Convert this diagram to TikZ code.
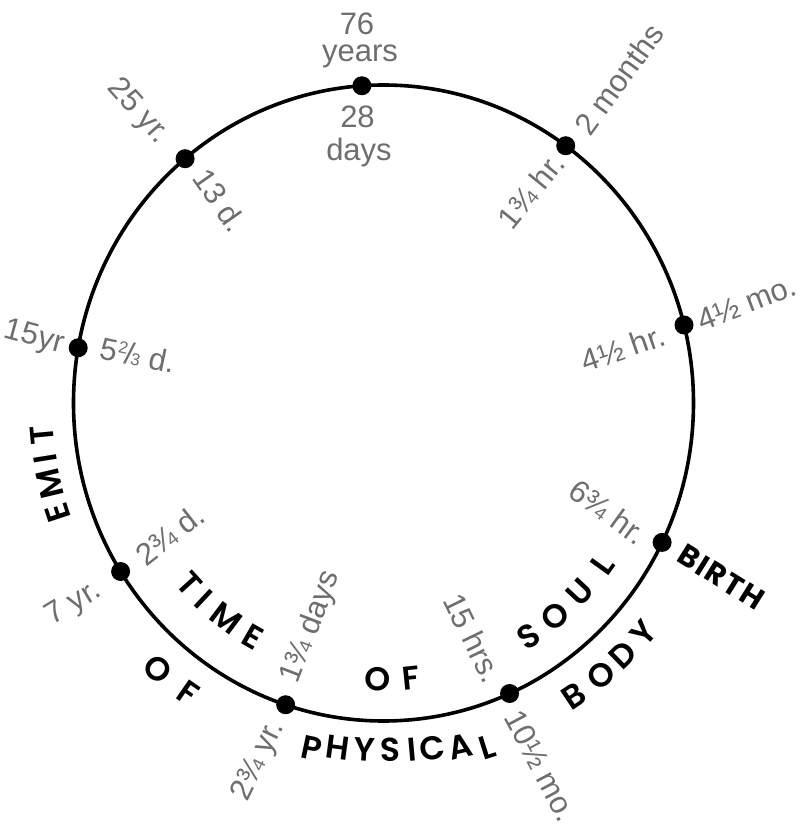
\documentclass[tikz,border=0pt]{standalone}
\usepackage{fontspec}
\setmainfont{Liberation Sans}
\newfontfamily\capfont{Poppins}[UprightFont={* SemiBold},BoldFont={* Bold}]
\newfontfamily\birthfont{Poppins}[UprightFont={* Bold},LetterSpace=6]
\definecolor{lblgray}{RGB}{110,110,110}
\newcommand\mytwothirds{\raisebox{9pt}{\fontsize{17}{17}\selectfont 2}\kern-2pt/\kern-2pt{\fontsize{17}{17}\selectfont 3}}
\begin{document}
\begin{tikzpicture}[x=1pt,y=1pt,
  dot/.style={circle,fill=black,inner sep=0pt,minimum size=19pt},
  lbl/.style={text=lblgray,font=\fontsize{31}{31}\selectfont,inner sep=0pt},
  capletter/.style={font=\capfont\fontsize{33}{33}\selectfont,inner sep=0pt,text=black}]
\useasboundingbox (-383.5,-427) rectangle (416.5,403);
% circle
\draw[line width=3.6pt] (0,0) ellipse [x radius=310, y radius=318];
% dots
\node[dot] (d1) at (94:310 and 318) {};
\node[dot] (d2) at (54:310 and 318) {};
\node[dot] (d3) at (14.2:310 and 318) {};
\node[dot] (d4) at (-26:310 and 318) {};
\node[dot] (d5) at (-66:310 and 318) {};
\node[dot] (d6) at (-108.4:310 and 318) {};
\node[dot] (d7) at (-148:310 and 318) {};
\node[dot] (d8) at (170:310 and 318) {};
\node[dot] (d9) at (129.8:310 and 318) {};
% grey labels
\node[lbl,anchor=base] (l76) at (-26.5,368) {76};
\node[lbl,anchor=base] (lyears) at (-23.5,341) {years};
\node[lbl,anchor=base] (l28) at (-26,275) {28};
\node[lbl,anchor=base] (ldays) at (-24.5,242) {days};
\node[lbl,rotate=-48] (l25yr) at (-245.5,291) {25 yr.};
\node[lbl,rotate=-55] (l13d) at (-163.5,203) {13 d.};
\node[lbl,rotate=-15] (l15yr) at (-349.5,65) {15yr};
\node[lbl,rotate=-12] (l5d) at (-245.5,48) {5\mytwothirds\ d.};
\node[lbl,rotate=54] (l2mo) at (235.5,324) {2 months};
\node[lbl,rotate=51] (l1hr) at (147.5,212) {1¾ hr.};
\node[lbl,rotate=21] (l4mo) at (363,100) {4½ mo.};
\node[lbl,rotate=19] (l4hr) at (239.5,55) {4½ hr.};
\node[lbl,rotate=-36] (l6hr) at (224.5,-109) {6¾ hr.};
\node[lbl,rotate=-64] (l15hrs) at (89.5,-235) {15 hrs.};
\node[lbl,rotate=-62] (l10mo) at (157.5,-363) {10½ mo.};
\node[lbl,rotate=69] (l1days) at (-72.5,-224) {1¾ days};
\node[lbl,rotate=64] (l2yr) at (-124.5,-358) {2¾ yr.};
\node[lbl,rotate=31] (l7yr) at (-309.5,-201) {7 yr.};
\node[lbl,rotate=38] (l2d) at (-213.5,-132) {2¾ d.};
% BIRTH
\node[inner sep=0pt,rotate=-32,font=\birthfont\fontsize{30}{30}\selectfont] (birth) at (337.5,-174) {BIRTH};
% outer words: TIME OF PHYSICAL BODY
\foreach \c/\a [count=\i] in {T/-174.7,I/-170.9,M/-166.8,E/-161.8}
  \node[capletter,rotate=\a-90] (otime\i) at (\a:342.5 and 351.4) {\c};
\foreach \c/\a [count=\i] in {O/-131,F/-124.7}
  \node[capletter,rotate=\a+90] (oof\i) at (\a:343.5 and 352.3) {\c};
\foreach \c/\x/\y/\r [count=\i] in {P/-71.5/-345/-12,H/-45.5/-345/-7.6,Y/-18.5/-347/-3,S/6.5/-347/1,I/28.5/-347/5,C/48.5/-345/8,A/76.5/-344/13,L/103.5/-344/17.6}
  \node[capletter,rotate=\r] (phys\i) at (\x,\y) {\c};
\foreach \c/\a [count=\i] in {B/-56.3,O/-50.6,D/-45.7,Y/-40.7}
  \node[capletter,rotate=\a+90] (body\i) at (\a:343.5 and 352.3) {\c};
% inner words: TIME OF SOUL
\foreach \c/\a [count=\i] in {T/-137.8,I/-133.1,M/-126.9,E/-119.9}
  \node[capletter,rotate=\a+90] (itime\i) at (\a:262.6 and 269.3) {\c};
\foreach \c/\a [count=\i] in {O/-91.2,F/-84.1}
  \node[capletter,rotate=\a+90] (iof\i) at (\a:269.7 and 276.7) {\c};
\foreach \c/\a [count=\i] in {S/-57.4,O/-50.6,U/-43.1,L/-35.7}
  \node[capletter,rotate=\a+90] (soul\i) at (\a:269.7 and 276.7) {\c};
\end{tikzpicture}
\end{document}
